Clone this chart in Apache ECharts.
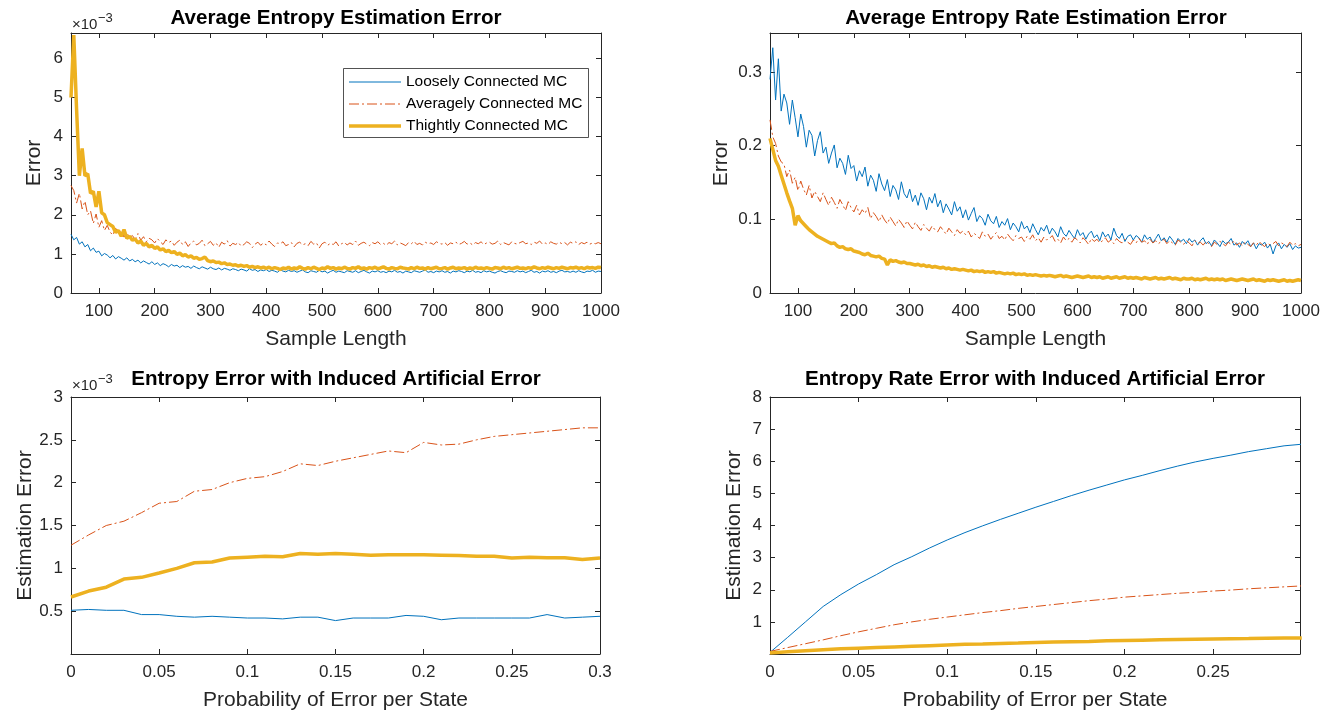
<!DOCTYPE html>
<html>
<head>
<meta charset="utf-8">
<title>Entropy estimation error</title>
<script src="https://cdn.jsdelivr.net/npm/echarts@6/dist/echarts.min.js"></script>
<style>
  html, body { margin: 0; padding: 0; background: #fff; }
  #main { width: 1337px; height: 715px; }
</style>
</head>
<body>
<div id="main"></div>
<script>
// sample lengths 50..1000 in steps of 5 (one value every 5 samples)
const sampleLength = [];
for (let n = 50; n <= 1000; n += 5) sampleLength.push(n);

// top left: average entropy estimation error, in units of 1e-3
const entLoose = [
  1.50, 1.36, 1.42, 1.25, 1.31, 1.18, 1.24, 1.08, 1.15, 1.04, // 50
  1.07, 0.95, 1.01, 0.97, 0.90, 0.96, 0.87, 0.93, 0.89, 0.84, // 100
  0.90, 0.82, 0.86, 0.80, 0.84, 0.77, 0.82, 0.78, 0.74, 0.80, // 150
  0.73, 0.77, 0.70, 0.75, 0.72, 0.67, 0.73, 0.69, 0.71, 0.65, // 200
  0.70, 0.66, 0.68, 0.63, 0.69, 0.65, 0.62, 0.67, 0.64, 0.61, // 250
  0.66, 0.62, 0.60, 0.64, 0.59, 0.63, 0.61, 0.58, 0.62, 0.60, // 300
  0.57, 0.61, 0.59, 0.56, 0.62, 0.58, 0.60, 0.55, 0.59, 0.57, // 350
  0.60, 0.55, 0.58, 0.56, 0.53, 0.59, 0.56, 0.54, 0.58, 0.55, // 400
  0.57, 0.53, 0.56, 0.59, 0.54, 0.52, 0.57, 0.55, 0.53, 0.58, // 450
  0.54, 0.56, 0.51, 0.55, 0.58, 0.53, 0.56, 0.54, 0.52, 0.57, // 500
  0.55, 0.53, 0.57, 0.52, 0.55, 0.58, 0.54, 0.51, 0.56, 0.54, // 550
  0.57, 0.53, 0.55, 0.52, 0.56, 0.54, 0.58, 0.53, 0.55, 0.51, // 600
  0.56, 0.54, 0.52, 0.57, 0.55, 0.53, 0.56, 0.59, 0.53, 0.55, // 650
  0.52, 0.56, 0.54, 0.57, 0.53, 0.55, 0.51, 0.56, 0.54, 0.57, // 700
  0.55, 0.52, 0.56, 0.54, 0.58, 0.53, 0.55, 0.52, 0.57, 0.54, // 750
  0.56, 0.53, 0.51, 0.55, 0.57, 0.54, 0.52, 0.56, 0.55, 0.53, // 800
  0.57, 0.54, 0.56, 0.52, 0.55, 0.58, 0.53, 0.55, 0.51, 0.56, // 850
  0.54, 0.57, 0.53, 0.55, 0.52, 0.56, 0.58, 0.54, 0.55, 0.53, // 900
  0.56, 0.53, 0.57, 0.54, 0.52, 0.56, 0.55, 0.58, 0.53, 0.56, // 950
  0.55
];
const entAverage = [
  2.75, 2.62, 2.30, 2.55, 2.15, 2.35, 2.00, 2.10, 1.78, 2.02,
  1.68, 1.85, 1.60, 1.73, 1.56, 1.48, 1.66, 1.52, 1.60, 1.43,
  1.55, 1.41, 1.47, 1.37, 1.52, 1.35, 1.44, 1.31, 1.40, 1.36,
  1.28, 1.39, 1.31, 1.24, 1.36, 1.29, 1.33, 1.22, 1.30, 1.35,
  1.24, 1.31, 1.19, 1.28, 1.33, 1.23, 1.27, 1.35, 1.21, 1.26,
  1.32, 1.22, 1.28, 1.17, 1.30, 1.25, 1.34, 1.20, 1.27, 1.24,
  1.29, 1.20, 1.24, 1.31, 1.27, 1.16, 1.25, 1.30, 1.22, 1.28,
  1.23, 1.33, 1.25, 1.19, 1.28, 1.26, 1.31, 1.21, 1.24, 1.29,
  1.18, 1.27, 1.30, 1.23, 1.26, 1.21, 1.32, 1.25, 1.28, 1.15,
  1.26, 1.30, 1.22, 1.27, 1.24, 1.31, 1.20, 1.26, 1.29, 1.23,
  1.28, 1.24, 1.33, 1.22, 1.27, 1.30, 1.25, 1.21, 1.29, 1.26,
  1.31, 1.24, 1.27, 1.22, 1.29, 1.26, 1.33, 1.23, 1.28, 1.25,
  1.21, 1.29, 1.26, 1.32, 1.24, 1.27, 1.23, 1.30, 1.26, 1.28,
  1.24, 1.31, 1.27, 1.25, 1.29, 1.22, 1.28, 1.26, 1.30, 1.24,
  1.27, 1.32, 1.25, 1.28, 1.23, 1.29, 1.26, 1.31, 1.24, 1.28,
  1.30, 1.25, 1.27, 1.33, 1.24, 1.29, 1.26, 1.23, 1.31, 1.27,
  1.25, 1.29, 1.32, 1.26, 1.28, 1.24, 1.30, 1.27, 1.33, 1.25,
  1.28, 1.24, 1.31, 1.27, 1.25, 1.30, 1.26, 1.29, 1.23, 1.30,
  1.27, 1.31, 1.24, 1.29, 1.26, 1.30, 1.25, 1.28, 1.26, 1.29,
  1.26
];
const entTight = [
  5.00, 6.60, 4.70, 3.00, 3.70, 3.00, 3.05, 2.55, 2.60, 2.20,
  2.60, 2.05, 2.00, 1.80, 1.75, 1.70, 1.55, 1.60, 1.45, 1.62,
  1.40, 1.45, 1.35, 1.38, 1.28, 1.33, 1.22, 1.27, 1.18, 1.22,
  1.14, 1.18, 1.10, 1.13, 1.06, 1.09, 1.03, 1.06, 0.99, 1.02,
  0.95, 0.98, 0.92, 0.95, 0.89, 0.91, 0.86, 0.88, 0.92, 0.83,
  0.80, 0.82, 0.78, 0.79, 0.75, 0.77, 0.73, 0.74, 0.71, 0.72,
  0.69, 0.71, 0.68, 0.70, 0.66, 0.68, 0.65, 0.67, 0.64, 0.66,
  0.63, 0.66, 0.62, 0.65, 0.63, 0.60, 0.64, 0.62, 0.66, 0.61,
  0.64, 0.62, 0.67, 0.63, 0.61, 0.65, 0.62, 0.66, 0.63, 0.60,
  0.64, 0.62, 0.67, 0.63, 0.65, 0.61, 0.64, 0.62, 0.66, 0.63,
  0.61, 0.65, 0.63, 0.67, 0.62, 0.64, 0.61, 0.65, 0.63, 0.66,
  0.62, 0.64, 0.67, 0.63, 0.61, 0.65, 0.63, 0.62, 0.66, 0.64,
  0.63, 0.61, 0.65, 0.62, 0.66, 0.63, 0.64, 0.61, 0.65, 0.62,
  0.64, 0.66, 0.62, 0.63, 0.65, 0.61, 0.64, 0.66, 0.62, 0.64,
  0.63, 0.65, 0.61, 0.64, 0.62, 0.66, 0.63, 0.64, 0.62, 0.65,
  0.63, 0.61, 0.65, 0.64, 0.62, 0.66, 0.63, 0.65, 0.62, 0.64,
  0.66, 0.63, 0.64, 0.62, 0.65, 0.63, 0.67, 0.64, 0.62, 0.65,
  0.63, 0.66, 0.64, 0.62, 0.65, 0.63, 0.66, 0.64, 0.62, 0.65,
  0.64, 0.66, 0.63, 0.65, 0.62, 0.66, 0.64, 0.65, 0.63, 0.66,
  0.65
];

// top right: average entropy rate estimation error
const rateLoose = [
  0.290, 0.333, 0.262, 0.318, 0.247, 0.270, 0.258, 0.229, 0.262, 0.238,
  0.212, 0.243, 0.226, 0.198, 0.221, 0.214, 0.186, 0.207, 0.219, 0.190,
  0.198, 0.176, 0.190, 0.201, 0.170, 0.183, 0.176, 0.161, 0.187, 0.169,
  0.173, 0.152, 0.166, 0.158, 0.171, 0.145, 0.160, 0.153, 0.138, 0.162,
  0.148, 0.139, 0.154, 0.131, 0.146, 0.140, 0.127, 0.151, 0.135, 0.129,
  0.141, 0.124, 0.133, 0.119, 0.136, 0.128, 0.113, 0.130, 0.122, 0.135,
  0.117, 0.126, 0.109, 0.121, 0.114, 0.106, 0.124, 0.111, 0.117, 0.102,
  0.113, 0.099, 0.108, 0.116, 0.097, 0.105, 0.101, 0.092, 0.107, 0.098,
  0.094, 0.104, 0.089, 0.097, 0.092, 0.101, 0.086, 0.095, 0.090, 0.083,
  0.097, 0.087, 0.091, 0.082, 0.094, 0.086, 0.079, 0.089, 0.084, 0.092,
  0.080, 0.088, 0.083, 0.076, 0.090, 0.081, 0.077, 0.085, 0.079, 0.074,
  0.086, 0.078, 0.082, 0.073, 0.080, 0.084, 0.075, 0.079, 0.071, 0.083,
  0.076, 0.080, 0.072, 0.088, 0.078, 0.074, 0.081, 0.070, 0.077, 0.079,
  0.072, 0.078, 0.075, 0.069, 0.079, 0.073, 0.076, 0.068, 0.074, 0.080,
  0.071, 0.075, 0.069, 0.077, 0.072, 0.066, 0.074, 0.070, 0.073, 0.067,
  0.074, 0.069, 0.072, 0.065, 0.071, 0.075, 0.067, 0.070, 0.064, 0.072,
  0.068, 0.063, 0.071, 0.067, 0.069, 0.074, 0.065, 0.068, 0.062, 0.070,
  0.066, 0.071, 0.063, 0.068, 0.060, 0.067, 0.065, 0.069, 0.061, 0.066,
  0.053, 0.064, 0.068, 0.060, 0.066, 0.062, 0.067, 0.059, 0.064, 0.061,
  0.062
];
const rateAverage = [
  0.235, 0.212, 0.203, 0.186, 0.178, 0.175, 0.158, 0.167, 0.149, 0.157,
  0.139, 0.152, 0.141, 0.133, 0.146, 0.129, 0.138, 0.131, 0.124, 0.136,
  0.127, 0.119, 0.130, 0.123, 0.115, 0.127, 0.120, 0.112, 0.124, 0.116,
  0.110, 0.119, 0.106, 0.113, 0.108, 0.116, 0.101, 0.109, 0.104, 0.097,
  0.106, 0.099, 0.094, 0.103, 0.097, 0.091, 0.100, 0.095, 0.089, 0.098,
  0.092, 0.087, 0.096, 0.090, 0.085, 0.093, 0.088, 0.084, 0.091, 0.086,
  0.083, 0.090, 0.085, 0.080, 0.088, 0.083, 0.078, 0.086, 0.081, 0.084,
  0.079, 0.084, 0.076, 0.081, 0.078, 0.074, 0.083, 0.077, 0.080, 0.073,
  0.078, 0.082, 0.074, 0.077, 0.072, 0.080, 0.075, 0.071, 0.078, 0.074,
  0.076, 0.070, 0.077, 0.073, 0.079, 0.071, 0.075, 0.069, 0.076, 0.072,
  0.074, 0.078, 0.070, 0.073, 0.068, 0.076, 0.071, 0.074, 0.069, 0.075,
  0.072, 0.068, 0.075, 0.071, 0.066, 0.074, 0.070, 0.073, 0.068, 0.071,
  0.075, 0.069, 0.072, 0.067, 0.074, 0.070, 0.068, 0.073, 0.069, 0.066,
  0.072, 0.068, 0.074, 0.069, 0.071, 0.066, 0.073, 0.068, 0.071, 0.067,
  0.070, 0.073, 0.067, 0.071, 0.068, 0.065, 0.072, 0.069, 0.066, 0.071,
  0.068, 0.064, 0.071, 0.067, 0.069, 0.065, 0.070, 0.067, 0.063, 0.069,
  0.066, 0.070, 0.067, 0.064, 0.069, 0.066, 0.071, 0.065, 0.068, 0.064,
  0.069, 0.066, 0.063, 0.068, 0.065, 0.070, 0.066, 0.063, 0.068, 0.065,
  0.067, 0.070, 0.064, 0.068, 0.066, 0.063, 0.069, 0.065, 0.067, 0.064,
  0.066
];
const rateTight = [
  0.210, 0.195, 0.180, 0.172, 0.160, 0.148, 0.136, 0.125, 0.115, 0.092,
  0.105, 0.098, 0.094, 0.090, 0.086, 0.083, 0.080, 0.077, 0.075, 0.073,
  0.071, 0.069, 0.067, 0.068, 0.064, 0.062, 0.063, 0.060, 0.059, 0.060,
  0.057, 0.056, 0.055, 0.053, 0.052, 0.054, 0.051, 0.050, 0.049, 0.050,
  0.047, 0.046, 0.038, 0.045, 0.043, 0.044, 0.042, 0.041, 0.042, 0.040,
  0.040, 0.039, 0.038, 0.039, 0.037, 0.038, 0.036, 0.037, 0.035, 0.036,
  0.035, 0.034, 0.035, 0.033, 0.034, 0.032, 0.033, 0.032, 0.031, 0.032,
  0.031, 0.030, 0.031, 0.029, 0.030, 0.029, 0.030, 0.028, 0.029, 0.028,
  0.029, 0.027, 0.028, 0.027, 0.026, 0.027, 0.026, 0.027, 0.025, 0.026,
  0.025, 0.026, 0.024, 0.025, 0.024, 0.025, 0.024, 0.023, 0.024, 0.023,
  0.024, 0.023, 0.022, 0.023, 0.024, 0.022, 0.023, 0.022, 0.021, 0.022,
  0.023, 0.022, 0.021, 0.022, 0.023, 0.021, 0.022, 0.021, 0.022, 0.020,
  0.021, 0.022, 0.020, 0.021, 0.022, 0.020, 0.021, 0.022, 0.020, 0.021,
  0.020, 0.021, 0.020, 0.019, 0.021, 0.020, 0.019, 0.020, 0.021, 0.019,
  0.020, 0.019, 0.020, 0.021, 0.019, 0.020, 0.019, 0.018, 0.020, 0.019,
  0.019, 0.020, 0.018, 0.019, 0.018, 0.019, 0.020, 0.018, 0.019, 0.018,
  0.019, 0.018, 0.019, 0.017, 0.018, 0.019, 0.018, 0.017, 0.018, 0.019,
  0.018, 0.017, 0.018, 0.019, 0.017, 0.018, 0.017, 0.016, 0.018, 0.017,
  0.018, 0.017, 0.016, 0.017, 0.018, 0.016, 0.017, 0.016, 0.017, 0.018,
  0.017
];

// bottom row: probability of error per state
const errProb = [0, 0.01, 0.02, 0.03, 0.04, 0.05, 0.06, 0.07, 0.08, 0.09, 0.1,
  0.11, 0.12, 0.13, 0.14, 0.15, 0.16, 0.17, 0.18, 0.19, 0.2,
  0.21, 0.22, 0.23, 0.24, 0.25, 0.26, 0.27, 0.28, 0.29, 0.3];

// bottom left: entropy error with induced error, in units of 1e-3
const indEntLoose = [0.51, 0.52, 0.51, 0.51, 0.46, 0.46, 0.44, 0.43, 0.44, 0.43, 0.42,
  0.42, 0.41, 0.43, 0.43, 0.39, 0.42, 0.42, 0.42, 0.45, 0.44,
  0.40, 0.42, 0.42, 0.42, 0.42, 0.42, 0.46, 0.42, 0.43, 0.44];
const indEntAverage = [1.27, 1.39, 1.50, 1.55, 1.65, 1.76, 1.78, 1.90, 1.92, 2.00, 2.05,
  2.07, 2.13, 2.22, 2.20, 2.25, 2.29, 2.33, 2.37, 2.35, 2.47,
  2.44, 2.45, 2.50, 2.54, 2.56, 2.58, 2.60, 2.62, 2.64, 2.64];
const indEntTight = [0.665, 0.735, 0.78, 0.875, 0.895, 0.945, 1.0, 1.065, 1.073, 1.12, 1.13,
  1.14, 1.135, 1.173, 1.165, 1.173, 1.165, 1.154, 1.16, 1.16, 1.158,
  1.154, 1.15, 1.142, 1.142, 1.12, 1.13, 1.123, 1.123, 1.104, 1.12];

// bottom right: entropy rate error with induced error
const indRateLoose = [0.05, 0.52, 1.0, 1.48, 1.85, 2.18, 2.47, 2.78, 3.03, 3.30, 3.55,
  3.78, 3.99, 4.19, 4.38, 4.57, 4.75, 4.93, 5.10, 5.26, 5.42,
  5.56, 5.71, 5.85, 5.98, 6.09, 6.19, 6.30, 6.39, 6.48, 6.53];
const indRateAverage = [0.08, 0.20, 0.32, 0.44, 0.57, 0.69, 0.80, 0.91, 1.00, 1.08, 1.15,
  1.22, 1.29, 1.35, 1.42, 1.48, 1.54, 1.60, 1.66, 1.71, 1.77,
  1.81, 1.85, 1.89, 1.92, 1.96, 1.99, 2.03, 2.06, 2.09, 2.12];
const indRateTight = [0.03, 0.07, 0.10, 0.13, 0.16, 0.18, 0.20, 0.22, 0.24, 0.26, 0.28,
  0.30, 0.31, 0.33, 0.34, 0.36, 0.37, 0.38, 0.39, 0.41, 0.42,
  0.43, 0.44, 0.45, 0.46, 0.47, 0.475, 0.48, 0.49, 0.495, 0.50];

// tick labels
const lengthTicks = [100, 200, 300, 400, 500, 600, 700, 800, 900, 1000];
const entTicks = [0, 1, 2, 3, 4, 5, 6];
const rateTicks = [0, 0.1, 0.2, 0.3];
const probTicks = [0, 0.05, 0.1, 0.15, 0.2, 0.25, 0.3];
const probTicksRight = [0, 0.05, 0.1, 0.15, 0.2, 0.25];
const indEntTicks = [0.5, 1, 1.5, 2, 2.5, 3];
const indRateTicks = [1, 2, 3, 4, 5, 6, 7, 8];

const seriesNames = ['Loosely Connected MC', 'Averagely Connected MC', 'Thightly Connected MC'];

const AX = '#262626';
const FONT = "'Liberation Sans', Arial, Helvetica, sans-serif";
const lineStyles = [
    { color: '#0072BD', width: 1, type: 'solid' },
    { color: '#D95319', width: 1, type: [10, 3, 2, 3] },
    { color: '#EDB120', width: 3.5, type: 'solid' }
];

const grids = [
    { left: 71, top: 33, width: 530, height: 260 },
    { left: 770, top: 33, width: 531, height: 260 },
    { left: 71, top: 397, width: 529, height: 257 },
    { left: 770, top: 397, width: 530, height: 257 }
];

const plainNumber = v => String(v)

const baseAxis = (g, min, max, ticks) => ({
    type: 'value', gridIndex: g, min: min, max: max,
    splitLine: { show: false },
    axisLine: { show: true, onZero: false, lineStyle: { color: AX, width: 1 } },
    axisTick: { show: true, inside: true, length: 5, customValues: ticks, lineStyle: { color: AX } }
})

const makeX = (g, min, max, ticks, name) => [
    Object.assign(baseAxis(g, min, max, ticks), {
        position: 'bottom', name: name, nameLocation: 'middle', nameGap: 36,
        nameTextStyle: { fontSize: 21, color: AX, fontFamily: FONT },
        axisLabel: { show: true, customValues: ticks, formatter: plainNumber, margin: 10, fontSize: 17, color: AX, fontFamily: FONT }
    }),
    Object.assign(baseAxis(g, min, max, ticks), { position: 'top', axisLabel: { show: false } })
]

const makeY = (g, min, max, ticks, name, gap) => [
    Object.assign(baseAxis(g, min, max, ticks), {
        position: 'left', name: name, nameLocation: 'middle', nameGap: gap, nameRotate: 90,
        nameTextStyle: { fontSize: 21, color: AX, fontFamily: FONT },
        axisLabel: { show: true, customValues: ticks, formatter: plainNumber, margin: 8, fontSize: 17, color: AX, fontFamily: FONT }
    }),
    Object.assign(baseAxis(g, min, max, ticks), { position: 'right', axisLabel: { show: false } })
]

const xAxis = [].concat(
    makeX(0, 50, 1000, lengthTicks, 'Sample Length'),
    makeX(1, 50, 1000, lengthTicks, 'Sample Length'),
    makeX(2, 0, 0.3, probTicks, 'Probability of Error per State'),
    makeX(3, 0, 0.299, probTicksRight, 'Probability of Error per State')
)
const yAxis = [].concat(
    makeY(0, 0, 6.65, entTicks, 'Error', 26),
    makeY(1, 0, 0.353, rateTicks, 'Error', 38),
    makeY(2, 0, 3, indEntTicks, 'Estimation Error', 34),
    makeY(3, 0, 8, indRateTicks, 'Estimation Error', 25)
)

// one line per series, on the bottom/left axis pair of its panel
const panels = [
    { xs: sampleLength, ys: [entLoose, entAverage, entTight] },
    { xs: sampleLength, ys: [rateLoose, rateAverage, rateTight] },
    { xs: errProb, ys: [indEntLoose, indEntAverage, indEntTight] },
    { xs: errProb, ys: [indRateLoose, indRateAverage, indRateTight] }
]
const series = []
panels.forEach((p, g) => {
    p.ys.forEach((ys, k) => {
        series.push({
            type: 'line', name: seriesNames[k],
            xAxisIndex: g * 2, yAxisIndex: g * 2,
            data: p.xs.map((x, i) => [x, ys[i]]),
            symbol: 'none', showSymbol: false, clip: true,
            color: lineStyles[k].color,
            lineStyle: lineStyles[k],
            emphasis: { disabled: true }
        })
    })
})

const titleText = (x, y, text) => ({
    type: 'text', x: x, y: y,
    style: { text: text, fill: '#000', font: 'bold 20.6px ' + FONT, align: 'center', verticalAlign: 'middle' }
})
const expText = (x, y) => [
    { type: 'text', x: x, y: y, style: { text: '\u00d710', fill: AX, font: '15px ' + FONT, align: 'left', verticalAlign: 'middle' } },
    { type: 'text', x: x + 26, y: y - 7, style: { text: '\u22123', fill: AX, font: '13px ' + FONT, align: 'left', verticalAlign: 'middle' } }
]

// legend box of the top left panel, MATLAB style: line sample then name
const legendBox = { left: 343, top: 68, width: 245, height: 69, rowGap: 22 }
const legendItems = []
legendItems.push({
    type: 'rect', z: 10,
    shape: { x: legendBox.left + 0.5, y: legendBox.top + 0.5, width: legendBox.width, height: legendBox.height },
    style: { fill: '#fff', stroke: AX, lineWidth: 0.8 }
})
seriesNames.forEach((name, k) => {
    const y = legendBox.top + 14 + k * legendBox.rowGap
    const ls = lineStyles[k]
    legendItems.push({
        type: 'line', z: 11,
        shape: { x1: legendBox.left + 6, y1: y, x2: legendBox.left + 58, y2: y },
        style: { stroke: ls.color, lineWidth: ls.width, lineDash: Array.isArray(ls.type) ? ls.type : null }
    })
    legendItems.push({
        type: 'text', z: 11, x: legendBox.left + 63, y: y,
        style: { text: name, fill: '#000', font: '15.5px ' + FONT, align: 'left', verticalAlign: 'middle' }
    })
})

const chart = echarts.init(document.getElementById('main'))
chart.setOption({
    animation: false,
    backgroundColor: '#fff',
    grid: grids,
    xAxis: xAxis,
    yAxis: yAxis,
    graphic: [].concat(
        titleText(336, 18, 'Average Entropy Estimation Error'),
        titleText(1036, 18, 'Average Entropy Rate Estimation Error'),
        titleText(336, 379, 'Entropy Error with Induced Artificial Error'),
        titleText(1035, 379, 'Entropy Rate Error with Induced Artificial Error'),
        expText(72, 25),
        expText(72, 386),
        legendItems
    ),
    series: series
})
</script>
</body>
</html>
